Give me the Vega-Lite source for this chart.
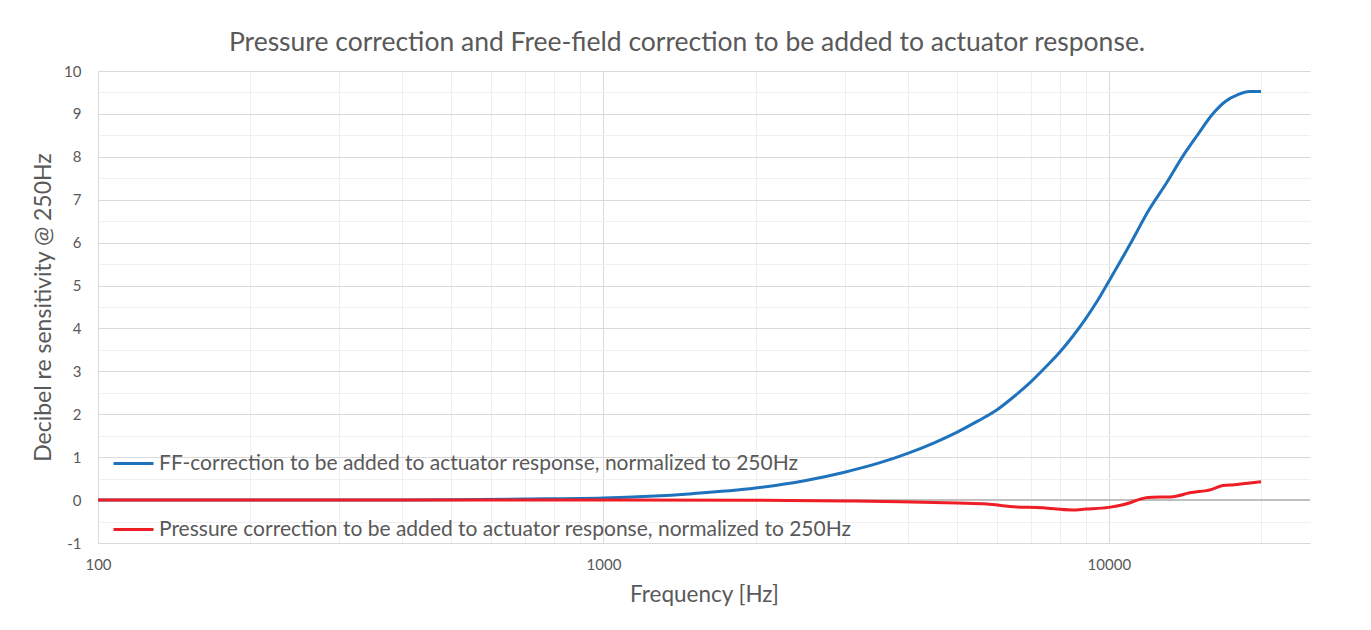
{
  "$schema": "https://vega.github.io/schema/vega-lite/v6.json",
  "width": 1212,
  "height": 472,
  "autosize": {"type": "none"},
  "padding": {"left": 98, "top": 71, "right": 61, "bottom": 87},
  "background": "white",
  "config": {"view": {"stroke": null}, "font": "Lato"},
  "title": {
    "text": "Pressure correction and Free-field correction to be added to actuator response.",
    "fontSize": 26.5,
    "font": "Lato",
    "fontWeight": "normal",
    "color": "#595959",
    "anchor": "middle",
    "dx": -17,
    "offset": 8
  },
  "data": {
    "values": [
      {"series": "FF-correction to be added to actuator response, normalized to 250Hz", "freq": 100, "db": 0},
      {"series": "FF-correction to be added to actuator response, normalized to 250Hz", "freq": 150, "db": 0},
      {"series": "FF-correction to be added to actuator response, normalized to 250Hz", "freq": 200, "db": 0},
      {"series": "FF-correction to be added to actuator response, normalized to 250Hz", "freq": 250, "db": 0},
      {"series": "FF-correction to be added to actuator response, normalized to 250Hz", "freq": 300, "db": 0.002},
      {"series": "FF-correction to be added to actuator response, normalized to 250Hz", "freq": 400, "db": 0.005},
      {"series": "FF-correction to be added to actuator response, normalized to 250Hz", "freq": 500, "db": 0.01},
      {"series": "FF-correction to be added to actuator response, normalized to 250Hz", "freq": 700, "db": 0.025},
      {"series": "FF-correction to be added to actuator response, normalized to 250Hz", "freq": 1000, "db": 0.05},
      {"series": "FF-correction to be added to actuator response, normalized to 250Hz", "freq": 1500, "db": 0.15},
      {"series": "FF-correction to be added to actuator response, normalized to 250Hz", "freq": 2000, "db": 0.28},
      {"series": "FF-correction to be added to actuator response, normalized to 250Hz", "freq": 2500, "db": 0.45},
      {"series": "FF-correction to be added to actuator response, normalized to 250Hz", "freq": 3000, "db": 0.65},
      {"series": "FF-correction to be added to actuator response, normalized to 250Hz", "freq": 3500, "db": 0.86},
      {"series": "FF-correction to be added to actuator response, normalized to 250Hz", "freq": 4000, "db": 1.09},
      {"series": "FF-correction to be added to actuator response, normalized to 250Hz", "freq": 4500, "db": 1.33},
      {"series": "FF-correction to be added to actuator response, normalized to 250Hz", "freq": 5000, "db": 1.58},
      {"series": "FF-correction to be added to actuator response, normalized to 250Hz", "freq": 5500, "db": 1.84},
      {"series": "FF-correction to be added to actuator response, normalized to 250Hz", "freq": 6000, "db": 2.1},
      {"series": "FF-correction to be added to actuator response, normalized to 250Hz", "freq": 6500, "db": 2.42},
      {"series": "FF-correction to be added to actuator response, normalized to 250Hz", "freq": 7000, "db": 2.75},
      {"series": "FF-correction to be added to actuator response, normalized to 250Hz", "freq": 7500, "db": 3.1},
      {"series": "FF-correction to be added to actuator response, normalized to 250Hz", "freq": 8000, "db": 3.45},
      {"series": "FF-correction to be added to actuator response, normalized to 250Hz", "freq": 8500, "db": 3.83},
      {"series": "FF-correction to be added to actuator response, normalized to 250Hz", "freq": 9000, "db": 4.23},
      {"series": "FF-correction to be added to actuator response, normalized to 250Hz", "freq": 9500, "db": 4.65},
      {"series": "FF-correction to be added to actuator response, normalized to 250Hz", "freq": 10000, "db": 5.1},
      {"series": "FF-correction to be added to actuator response, normalized to 250Hz", "freq": 11000, "db": 5.95},
      {"series": "FF-correction to be added to actuator response, normalized to 250Hz", "freq": 12000, "db": 6.76},
      {"series": "FF-correction to be added to actuator response, normalized to 250Hz", "freq": 13000, "db": 7.39},
      {"series": "FF-correction to be added to actuator response, normalized to 250Hz", "freq": 14000, "db": 8.01},
      {"series": "FF-correction to be added to actuator response, normalized to 250Hz", "freq": 15000, "db": 8.52},
      {"series": "FF-correction to be added to actuator response, normalized to 250Hz", "freq": 16000, "db": 8.98},
      {"series": "FF-correction to be added to actuator response, normalized to 250Hz", "freq": 17000, "db": 9.29},
      {"series": "FF-correction to be added to actuator response, normalized to 250Hz", "freq": 18000, "db": 9.45},
      {"series": "FF-correction to be added to actuator response, normalized to 250Hz", "freq": 19000, "db": 9.52},
      {"series": "FF-correction to be added to actuator response, normalized to 250Hz", "freq": 20000, "db": 9.52},
      {"series": "Pressure correction to be added to actuator response, normalized to 250Hz", "freq": 100, "db": 0},
      {"series": "Pressure correction to be added to actuator response, normalized to 250Hz", "freq": 200, "db": 0},
      {"series": "Pressure correction to be added to actuator response, normalized to 250Hz", "freq": 500, "db": 0},
      {"series": "Pressure correction to be added to actuator response, normalized to 250Hz", "freq": 1000, "db": 0},
      {"series": "Pressure correction to be added to actuator response, normalized to 250Hz", "freq": 2000, "db": -0.005},
      {"series": "Pressure correction to be added to actuator response, normalized to 250Hz", "freq": 3000, "db": -0.02},
      {"series": "Pressure correction to be added to actuator response, normalized to 250Hz", "freq": 3860, "db": -0.04},
      {"series": "Pressure correction to be added to actuator response, normalized to 250Hz", "freq": 5000, "db": -0.07},
      {"series": "Pressure correction to be added to actuator response, normalized to 250Hz", "freq": 5740, "db": -0.09},
      {"series": "Pressure correction to be added to actuator response, normalized to 250Hz", "freq": 6370, "db": -0.15},
      {"series": "Pressure correction to be added to actuator response, normalized to 250Hz", "freq": 7400, "db": -0.18},
      {"series": "Pressure correction to be added to actuator response, normalized to 250Hz", "freq": 8450, "db": -0.23},
      {"series": "Pressure correction to be added to actuator response, normalized to 250Hz", "freq": 9000, "db": -0.21},
      {"series": "Pressure correction to be added to actuator response, normalized to 250Hz", "freq": 10000, "db": -0.17},
      {"series": "Pressure correction to be added to actuator response, normalized to 250Hz", "freq": 10660, "db": -0.11},
      {"series": "Pressure correction to be added to actuator response, normalized to 250Hz", "freq": 11950, "db": 0.06},
      {"series": "Pressure correction to be added to actuator response, normalized to 250Hz", "freq": 13380, "db": 0.08},
      {"series": "Pressure correction to be added to actuator response, normalized to 250Hz", "freq": 14460, "db": 0.17},
      {"series": "Pressure correction to be added to actuator response, normalized to 250Hz", "freq": 15990, "db": 0.25},
      {"series": "Pressure correction to be added to actuator response, normalized to 250Hz", "freq": 16800, "db": 0.34},
      {"series": "Pressure correction to be added to actuator response, normalized to 250Hz", "freq": 17730, "db": 0.36},
      {"series": "Pressure correction to be added to actuator response, normalized to 250Hz", "freq": 19000, "db": 0.4},
      {"series": "Pressure correction to be added to actuator response, normalized to 250Hz", "freq": 20000, "db": 0.43}
    ]
  },
  "layer": [
    {
      "mark": {"type": "line", "opacity": 0},
      "encoding": {
        "x": {
          "field": "freq", "type": "quantitative",
          "scale": {"type": "log", "domain": [100, 25000]},
          "axis": {
            "orient": "bottom", "grid": true, "gridColor": "#efefef", "gridWidth": 1,
            "values": [200, 300, 400, 500, 600, 700, 800, 900, 2000, 3000, 4000, 5000, 6000, 7000, 8000, 9000, 20000],
            "labels": false, "ticks": false, "domain": false, "title": null
          }
        },
        "y": {
          "field": "db", "type": "quantitative",
          "scale": {"domain": [-1, 10]},
          "axis": {
            "orient": "left", "grid": true, "gridColor": "#f0f0f0", "gridWidth": 1,
            "values": [-0.5, 0.5, 1.5, 2.5, 3.5, 4.5, 5.5, 6.5, 7.5, 8.5, 9.5],
            "labels": false, "ticks": false, "domain": false, "title": null
          }
        },
        "detail": {"field": "series"}
      }
    },
    {
      "mark": {"type": "rule", "color": "#bfbfbf", "strokeWidth": 1.5},
      "encoding": {"y": {"datum": 0, "axis": null}}
    },
    {
      "mark": {"type": "line", "strokeWidth": 3, "interpolate": "monotone"},
      "encoding": {
        "x": {
          "field": "freq", "type": "quantitative",
          "scale": {"type": "log", "domain": [100, 25000]},
          "axis": {
            "orient": "bottom", "grid": true, "gridColor": "#d9d9d9", "gridWidth": 1,
            "values": [100, 1000, 10000], "format": "d", "labelFlush": false,
            "ticks": false, "domain": false,
            "labelFontSize": 15, "labelColor": "#595959", "labelPadding": 14, "labelFont": "Lato",
            "title": "Frequency [Hz]", "titleFontSize": 22.5, "titleColor": "#595959",
            "titleFontWeight": "normal", "titlePadding": 11, "titleFont": "Lato"
          }
        },
        "y": {
          "field": "db", "type": "quantitative",
          "scale": {"domain": [-1, 10]},
          "axis": {
            "orient": "left", "grid": true, "gridColor": "#d9d9d9", "gridWidth": 1,
            "values": [-1, 0, 1, 2, 3, 4, 5, 6, 7, 8, 9, 10],
            "labelExpr": "'' + datum.value",
            "ticks": false, "domain": false,
            "labelFontSize": 15, "labelColor": "#595959", "labelPadding": 17, "labelFont": "Lato",
            "title": "Decibel re sensitivity @ 250Hz", "titleFontSize": 23, "titleColor": "#595959",
            "titleFontWeight": "normal", "titlePadding": 8, "titleFont": "Lato"
          }
        },
        "color": {
          "field": "series", "type": "nominal",
          "scale": {
            "domain": ["FF-correction to be added to actuator response, normalized to 250Hz", "Pressure correction to be added to actuator response, normalized to 250Hz"],
            "range": ["#1F73BD", "#EE1D26"]
          },
          "legend": {
            "orient": "none", "legendX": 14, "legendY": 371, "title": null,
            "symbolType": "stroke", "symbolSize": 1600, "symbolStrokeWidth": 3,
            "labelFontSize": 21, "labelColor": "#595959", "labelLimit": 0, "labelFont": "Lato",
            "rowPadding": 34, "labelOffset": 4
          }
        }
      }
    }
  ],
  "resolve": {"axis": {"x": "independent", "y": "independent"}}
}
